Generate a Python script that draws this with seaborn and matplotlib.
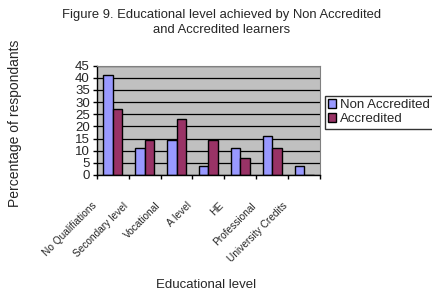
import seaborn as sns
import matplotlib.pyplot as plt
import matplotlib.transforms as mtransforms
import numpy as np
import pandas as pd

levels = ['No Qualifiations', 'Secondary level', 'Vocational', 'A level',
          'HE', 'Professional', 'University Credits']
non_accredited = [41, 11, 14.5, 3.5, 11, 16, 3.5]
accredited = [27, 14.5, 23, 14.5, 7, 11, 0]
groups = ['Non Accredited', 'Accredited']
colors = ['#9999FF', '#993366']

df = pd.DataFrame({
    'level': levels * 2,
    'pct': non_accredited + accredited,
    'group': [groups[0]] * len(levels) + [groups[1]] * len(levels),
})

sns.set_style('white')
plt.rcParams['font.family'] = ['Liberation Sans', 'DejaVu Sans']

fig = plt.figure(figsize=(4.32, 2.97), dpi=100)
ax = fig.add_axes([0.224, 0.411, 0.517, 0.368])
sns.barplot(data=df, x='level', y='pct', hue='group', palette=colors,
            width=0.6, edgecolor='black', linewidth=1, ax=ax, saturation=1)

ax.set_facecolor('#C0C0C0')
ax.set_ylim(0, 45)
ax.set_xlim(-0.5, len(levels) - 0.5)
ax.set_yticks(np.arange(0, 46, 5))
ax.yaxis.grid(True, color='black', linewidth=0.9)
ax.set_axisbelow(True)
for s in ['top', 'right']:
    ax.spines[s].set_color('#808080')
for s in ['left', 'bottom']:
    ax.spines[s].set_color('black')
    ax.spines[s].set_linewidth(1)

ax.set_xticks(np.arange(-0.5, len(levels), 1), minor=True)
ax.tick_params(axis='x', which='major', length=0, labelsize=7.3, pad=0)
ax.tick_params(axis='x', which='minor', length=3, width=1, color='black', direction='out', bottom=True)
ax.tick_params(axis='y', length=3, width=1, color='black', direction='out', left=True, labelsize=9.5, pad=2)

offset = mtransforms.ScaledTranslation(-13 / 72, -21 / 72, fig.dpi_scale_trans)
for lab in ax.get_xticklabels():
    lab.set_rotation(45)
    lab.set_ha('right')
    lab.set_va('center')
    lab.set_rotation_mode('anchor')
    lab.set_transform(lab.get_transform() + offset)

ax.set_xlabel('')
ax.set_ylabel('')
fig.text(0.477, 0.04, 'Educational level', ha='center', va='center', fontsize=9.5)
fig.text(0.035, 0.586, 'Percentage of respondants', rotation=90, ha='center', va='center', fontsize=10)
fig.text(0.512, 0.923, 'Figure 9. Educational level achieved by Non Accredited\nand Accredited learners',
         ha='center', va='center', fontsize=9.4, linespacing=1.35)

leg = ax.legend(loc='upper left', bbox_to_anchor=(325 / 432, 1 - 96 / 297),
                bbox_transform=fig.transFigure, frameon=True, fancybox=False,
                fontsize=9.5, handlelength=0.6, handleheight=0.6, handletextpad=0.3,
                borderpad=0.25, labelspacing=0.15, borderaxespad=0)
leg.get_frame().set_edgecolor('black')
leg.get_frame().set_linewidth(1)

fig.savefig('out.png', dpi=100)
